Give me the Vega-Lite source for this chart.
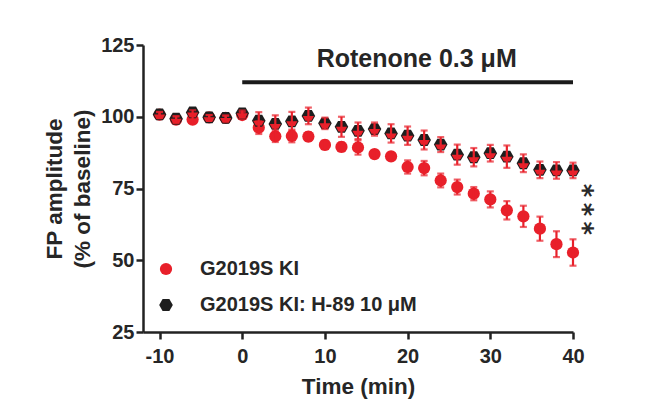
{
  "$schema": "https://vega.github.io/schema/vega-lite/v6.json",
  "autosize": "none",
  "width": 430,
  "height": 287,
  "padding": {"left": 143, "top": 45, "right": 83, "bottom": 73},
  "background": "white",
  "config": {
    "view": {"stroke": null},
    "font": "Liberation Sans",
    "axis": {
      "grid": false,
      "domainColor": "#222222",
      "domainWidth": 2.5,
      "tickColor": "#222222",
      "tickWidth": 2.5,
      "tickSize": 7,
      "labelFont": "Liberation Sans",
      "labelFontWeight": "bold",
      "labelFontSize": 20,
      "labelColor": "#262626",
      "titleFont": "Liberation Sans",
      "titleFontWeight": "bold",
      "titleFontSize": 22.5,
      "titleColor": "#262626"
    },
    "legend": {
      "labelFont": "Liberation Sans",
      "labelFontWeight": "bold",
      "labelFontSize": 20,
      "labelColor": "#262626",
      "labelLimit": 400
    }
  },
  "datasets": {
    "fp": [
      {"t": -10, "g": "G2019S KI", "v": 100.7, "e": 1.0},
      {"t": -8, "g": "G2019S KI", "v": 99.0, "e": 1.2},
      {"t": -6, "g": "G2019S KI", "v": 99.0, "e": 1.2},
      {"t": -4, "g": "G2019S KI", "v": 99.8, "e": 0.8},
      {"t": -2, "g": "G2019S KI", "v": 99.6, "e": 0.8},
      {"t": 0, "g": "G2019S KI", "v": 100.6, "e": 1.0},
      {"t": 2, "g": "G2019S KI", "v": 96.2, "e": 2.2},
      {"t": 4, "g": "G2019S KI", "v": 93.2, "e": 2.0},
      {"t": 6, "g": "G2019S KI", "v": 93.3, "e": 2.2},
      {"t": 8, "g": "G2019S KI", "v": 93.1, "e": 1.5},
      {"t": 10, "g": "G2019S KI", "v": 90.2, "e": 1.5},
      {"t": 12, "g": "G2019S KI", "v": 89.5, "e": 1.5},
      {"t": 14, "g": "G2019S KI", "v": 89.3, "e": 2.5},
      {"t": 16, "g": "G2019S KI", "v": 87.0, "e": 1.2},
      {"t": 18, "g": "G2019S KI", "v": 86.2, "e": 1.2},
      {"t": 20, "g": "G2019S KI", "v": 82.5, "e": 2.3},
      {"t": 22, "g": "G2019S KI", "v": 82.1, "e": 2.5},
      {"t": 24, "g": "G2019S KI", "v": 77.8, "e": 2.4},
      {"t": 26, "g": "G2019S KI", "v": 75.5, "e": 2.6},
      {"t": 28, "g": "G2019S KI", "v": 73.2, "e": 2.3},
      {"t": 30, "g": "G2019S KI", "v": 71.2, "e": 2.8},
      {"t": 32, "g": "G2019S KI", "v": 67.4, "e": 3.2},
      {"t": 34, "g": "G2019S KI", "v": 65.3, "e": 3.7},
      {"t": 36, "g": "G2019S KI", "v": 61.0, "e": 4.2},
      {"t": 38, "g": "G2019S KI", "v": 55.6, "e": 4.5},
      {"t": 40, "g": "G2019S KI", "v": 52.7, "e": 4.6},
      {"t": -10, "g": "G2019S KI: H-89 10 μM", "v": 100.8, "e": 0.8},
      {"t": -8, "g": "G2019S KI: H-89 10 μM", "v": 99.3, "e": 0.8},
      {"t": -6, "g": "G2019S KI: H-89 10 μM", "v": 101.5, "e": 0.8},
      {"t": -4, "g": "G2019S KI: H-89 10 μM", "v": 99.8, "e": 0.8},
      {"t": -2, "g": "G2019S KI: H-89 10 μM", "v": 99.6, "e": 0.8},
      {"t": 0, "g": "G2019S KI: H-89 10 μM", "v": 101.2, "e": 1.0},
      {"t": 2, "g": "G2019S KI: H-89 10 μM", "v": 98.6, "e": 3.0},
      {"t": 4, "g": "G2019S KI: H-89 10 μM", "v": 97.5, "e": 3.0},
      {"t": 6, "g": "G2019S KI: H-89 10 μM", "v": 98.4, "e": 3.3},
      {"t": 8, "g": "G2019S KI: H-89 10 μM", "v": 100.3, "e": 2.9},
      {"t": 10, "g": "G2019S KI: H-89 10 μM", "v": 97.7, "e": 2.0},
      {"t": 12, "g": "G2019S KI: H-89 10 μM", "v": 96.5, "e": 3.5},
      {"t": 14, "g": "G2019S KI: H-89 10 μM", "v": 95.1, "e": 2.9},
      {"t": 16, "g": "G2019S KI: H-89 10 μM", "v": 95.7, "e": 2.3},
      {"t": 18, "g": "G2019S KI: H-89 10 μM", "v": 94.2, "e": 3.2},
      {"t": 20, "g": "G2019S KI: H-89 10 μM", "v": 93.4, "e": 3.2},
      {"t": 22, "g": "G2019S KI: H-89 10 μM", "v": 91.9, "e": 3.3},
      {"t": 24, "g": "G2019S KI: H-89 10 μM", "v": 90.3, "e": 2.6},
      {"t": 26, "g": "G2019S KI: H-89 10 μM", "v": 86.8, "e": 3.5},
      {"t": 28, "g": "G2019S KI: H-89 10 μM", "v": 85.9, "e": 3.2},
      {"t": 30, "g": "G2019S KI: H-89 10 μM", "v": 87.3, "e": 2.9},
      {"t": 32, "g": "G2019S KI: H-89 10 μM", "v": 86.1, "e": 3.9},
      {"t": 34, "g": "G2019S KI: H-89 10 μM", "v": 83.8, "e": 3.1},
      {"t": 36, "g": "G2019S KI: H-89 10 μM", "v": 81.5, "e": 2.9},
      {"t": 38, "g": "G2019S KI: H-89 10 μM", "v": 81.3, "e": 2.9},
      {"t": 40, "g": "G2019S KI: H-89 10 μM", "v": 81.3, "e": 2.7}
    ],
    "stars": [
      {"t": 41.05, "v": 67.7, "s": "*\u2009*\u2009*"}
    ],
    "treat": [
      {"t0": 0, "t1": 40, "v": 112, "tm": 21.1, "vt": 120.1, "label": "Rotenone 0.3 μM"}
    ]
  },
  "encoding": {
    "x": {
      "field": "t",
      "type": "quantitative",
      "scale": {"domain": [-12, 40], "nice": false, "zero": false},
      "axis": {"values": [-10, 0, 10, 20, 30, 40], "labelExpr": "'' + datum.value", "title": "Time (min)", "labelPadding": 7, "titlePadding": 9, "labelFlush": false}
    },
    "y": {
      "field": "v",
      "type": "quantitative",
      "scale": {"domain": [25, 125], "nice": false, "zero": false},
      "axis": {"values": [25, 50, 75, 100, 125], "title": ["FP amplitude", "(% of baseline)"], "labelPadding": 2, "titlePadding": 6, "titleLineHeight": 28, "labelFlush": false}
    }
  },
  "layer": [
    {
      "data": {"name": "fp"},
      "mark": {"type": "point", "filled": true, "opacity": 1, "size": 150},
      "encoding": {
        "color": {
          "field": "g",
          "type": "nominal",
          "scale": {"domain": ["G2019S KI", "G2019S KI: H-89 10 μM"], "range": ["#e8202a", "#1e1e1e"]},
          "legend": {"title": null, "orient": "none", "legendX": 13, "legendY": 214, "symbolSize": 110, "labelOffset": 24, "rowPadding": 16, "padding": 0}
        },
        "shape": {
          "field": "g",
          "type": "nominal",
          "scale": {"domain": ["G2019S KI", "G2019S KI: H-89 10 μM"], "range": ["circle", "M-1,0L-0.5,-0.87L0.5,-0.87L1,0L0.5,0.87L-0.5,0.87Z"]}
        },
        "size": {
          "field": "g",
          "type": "nominal",
          "scale": {"domain": ["G2019S KI", "G2019S KI: H-89 10 μM"], "range": [150, 185]},
          "legend": null
        }
      }
    },
    {
      "data": {"name": "fp"},
      "transform": [{"filter": "datum.g !== 'G2019S KI'"}],
      "mark": {"type": "point", "filled": true, "opacity": 1, "size": 185, "color": "#e8202a", "shape": "M-0.82,0L0.82,0L0.44,0.7L-0.44,0.7Z"}
    },
    {
      "data": {"name": "fp"},
      "mark": {"type": "errorbar", "color": "#e8202a", "ticks": {"size": 7, "thickness": 2.2}, "rule": {"strokeWidth": 2.2}},
      "encoding": {
        "yError": {"field": "e"}
      }
    },
    {
      "data": {"name": "stars"},
      "mark": {"type": "text", "fontSize": 26, "fontWeight": "bold", "font": "DejaVu Sans", "color": "#2a2a2a", "align": "center", "baseline": "middle", "angle": 90},
      "encoding": {"text": {"field": "s"}}
    },
    {
      "data": {"name": "treat"},
      "mark": {"type": "rule", "strokeWidth": 4, "color": "#1a1a1a"},
      "encoding": {
        "x": {"field": "t0", "type": "quantitative"},
        "x2": {"field": "t1"},
        "y": {"field": "v", "type": "quantitative"}
      }
    },
    {
      "data": {"name": "treat"},
      "mark": {"type": "text", "fontSize": 25, "fontWeight": "bold", "color": "#262626", "baseline": "middle"},
      "encoding": {
        "x": {"field": "tm", "type": "quantitative"},
        "y": {"field": "vt", "type": "quantitative"},
        "text": {"field": "label"}
      }
    }
  ]
}
